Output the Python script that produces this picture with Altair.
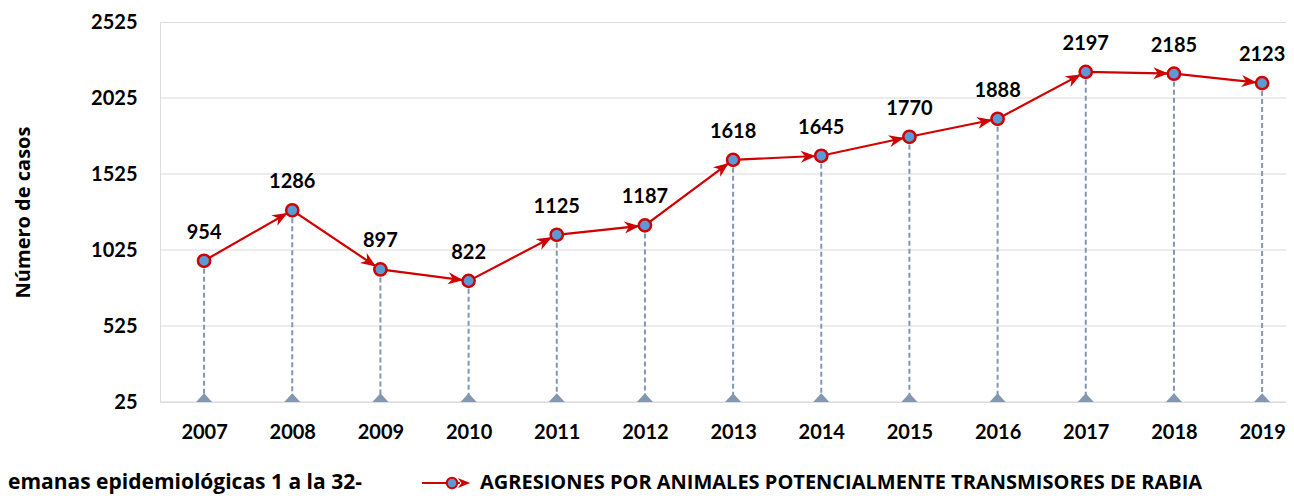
import math
import altair as alt
import pandas as pd

years = [2007, 2008, 2009, 2010, 2011, 2012, 2013, 2014, 2015, 2016, 2017, 2018, 2019]
cases = [954, 1286, 897, 822, 1125, 1187, 1618, 1645, 1770, 1888, 2197, 2185, 2123]
y_ticks = [25, 525, 1025, 1525, 2025, 2525]
grid_vals = [25, 525, 1025, 1525, 2025]
y_title = "Número de casos"
legend_label = "AGRESIONES POR ANIMALES POTENCIALMENTE TRANSMISORES DE RABIA"
note_text = "emanas epidemiológicas 1 a la 32-"

FONT = "Lato"
FONT2 = "Open Sans"
W, H = 1126, 380
X0, X1 = 2006.5, 2019.271
Y0, Y1 = 25, 2525
RED = "#D00000"
BLUE = "#5B9BD5"
GREYBLUE = "#8497B0"

px_year = W / (X1 - X0)
px_unit = H / (Y1 - Y0)

df = pd.DataFrame({"year": years, "cases": cases})

# arrowhead placed just before each marker, pointing along the incoming segment
arr = []
for i in range(1, len(years)):
    dx = (years[i] - years[i - 1]) * px_year
    dy = -(cases[i] - cases[i - 1]) * px_unit
    L = math.hypot(dx, dy)
    ux, uy = dx / L, dy / L
    ang = math.degrees(math.atan2(dy, dx)) % 360
    back = 13
    arr.append({"ax": years[i] - ux * back / px_year,
                "ay": cases[i] + uy * back / px_unit,
                "ang": ang})
arr_df = pd.DataFrame(arr)

xs = alt.Scale(domain=[X0, X1], nice=False, zero=False)
ys = alt.Scale(domain=[Y0, Y1], nice=False, zero=False)

x_enc = alt.X("year:Q", scale=xs, axis=alt.Axis(
    values=years, format="d", labelFont=FONT, labelFontWeight="bold",
    labelFontSize=20, labelColor="black", labelPadding=20, ticks=False,
    domain=False, grid=False, title=None))
y_enc = alt.Y("cases:Q", scale=ys, axis=alt.Axis(
    values=y_ticks, format="d", labelFont=FONT, labelFontWeight="bold",
    labelFontSize=20, labelColor="black", labelPadding=23, ticks=False,
    domain=False, grid=False, title=y_title, titleFont=FONT2,
    titleFontSize=20, titleFontWeight="bold", titleColor="black",
    titleAngle=270, titleX=-137, titleY=H / 2, titleAlign="center",
    titleBaseline="middle"))

grid = alt.Chart(pd.DataFrame({"g": grid_vals})).mark_rule(
    color="#D9D9D9", strokeWidth=1.2).encode(
    y=alt.Y("g:Q", scale=ys), x=alt.value(0), x2=alt.value(W + 20))

drops = alt.Chart(df).mark_rule(
    color=GREYBLUE, strokeWidth=2, strokeDash=[5, 3]).encode(
    x=x_enc, y=y_enc, y2=alt.datum(Y0))

tri_path = "M-1,0 L1,0 L0,-1.1 Z"
tris = alt.Chart(df).mark_point(
    shape=tri_path, filled=True, color=GREYBLUE, opacity=1, size=256).encode(
    x=alt.X("year:Q", scale=xs), y=alt.datum(Y0))

line = alt.Chart(df).mark_line(color=RED, strokeWidth=2.2).encode(
    x=alt.X("year:Q", scale=xs), y=alt.Y("cases:Q", scale=ys))

arrow_path = "M1,0 L-1,-0.8 L-0.4,0 L-1,0.8 Z"
arrows = alt.Chart(arr_df).mark_point(
    shape=arrow_path, filled=True, color=RED, opacity=1, size=230).encode(
    x=alt.X("ax:Q", scale=xs), y=alt.Y("ay:Q", scale=ys),
    angle=alt.Angle("ang:Q", scale=None))

dots = alt.Chart(df).mark_point(
    shape="circle", filled=True, fill=BLUE, stroke=RED, strokeWidth=2.5,
    opacity=1, size=150).encode(
    x=alt.X("year:Q", scale=xs), y=alt.Y("cases:Q", scale=ys))

labels = alt.Chart(df).mark_text(
    font=FONT, fontWeight="bold", fontSize=20, color="black",
    baseline="middle", dy=-28).encode(
    x=alt.X("year:Q", scale=xs), y=alt.Y("cases:Q", scale=ys),
    text=alt.Text("cases:Q", format="d"))

one = pd.DataFrame({"k": [0]})
LY = 461
leg_line = alt.Chart(one).mark_rule(color=RED, strokeWidth=2.2).encode(
    x=alt.value(262), x2=alt.value(300), y=alt.value(LY))
leg_dot = alt.Chart(one).mark_point(
    shape="circle", filled=True, fill=BLUE, stroke=RED, strokeWidth=2,
    opacity=1, size=110).encode(x=alt.value(292), y=alt.value(LY))
leg_arrow = alt.Chart(one).mark_point(
    shape=arrow_path, filled=True, color=RED, opacity=1, size=160).encode(
    x=alt.value(304), y=alt.value(LY))
leg_text = alt.Chart(one).mark_text(
    font=FONT2, fontWeight="bold", fontSize=20, color="black",
    align="left", baseline="middle").encode(
    x=alt.value(320), y=alt.value(LY), text=alt.value(legend_label))
note = alt.Chart(one).mark_text(
    font=FONT2, fontWeight="bold", fontSize=21, color="black",
    align="left", baseline="middle").encode(
    x=alt.value(-152), y=alt.value(LY), text=alt.value(note_text))

chart = alt.layer(
    grid, drops, tris, line, arrows, dots, labels,
    leg_line, leg_dot, leg_arrow, leg_text, note
).properties(
    width=W, height=H,
    autosize=alt.AutoSizeParams(type="none"),
    padding={"left": 152, "top": 14, "right": 0, "bottom": 92},
).configure_view(stroke=None).configure(background="white")

chart.save("out.html", embed_options={"renderer": "svg", "actions": False})
